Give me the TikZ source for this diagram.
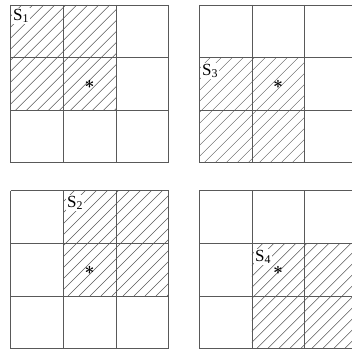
\documentclass[tikz,border=0pt]{standalone}
\usepackage{fontspec}
\setmainfont{Liberation Serif}
\newcommand\cellgrid[2]{%
  \foreach \i in {0,1,2,3}{%
    \draw[gridline] (#1+\i*52.6, #2) -- (#1+\i*52.6, #2+157.8);
    \draw[gridline] (#1, #2+\i*52.6) -- (#1+157.8, #2+\i*52.6);
  }}
\newcommand\hatchsq[2]{%
  \begin{scope}
    \clip (#1,#2) rectangle ++(105.2,105.2);
    \foreach \d in {0,11,...,231}
      \draw[hatchline] (#1+\d-105.2, #2+105.2) -- ++(105.2,-105.2);
  \end{scope}}
\begin{document}
\begin{tikzpicture}[x=1pt,y=-1pt,
  gridline/.style={draw=black!65, line width=0.8pt},
  hatchline/.style={draw=black!65, line width=0.45pt},
  lab/.style={fill=white, inner sep=1pt, font=\fontsize{17}{17}\selectfont},
  starmark/.style={inner sep=0pt, font=\fontsize{17}{17}\selectfont\boldmath}]
\useasboundingbox (0,0) rectangle (352,350);
% hatched regions
\hatchsq{10.7}{5}
\hatchsq{199.3}{57.6}
\hatchsq{63.3}{190.7}
\hatchsq{251.9}{243.3}
% labels
\node[lab] (s1) at (21,16) {S\textsubscript{1}};
\node[lab] (s3) at (210,71) {S\textsubscript{3}};
\node[lab] (s2) at (75,203) {S\textsubscript{2}};
\node[lab] (s4) at (263,257) {S\textsubscript{4}};
% grids
\cellgrid{10.7}{5}
\cellgrid{199.3}{5}
\cellgrid{10.7}{190.7}
\cellgrid{199.3}{190.7}
% centre marks
\node[starmark] (c1) at (89.6,84.6) {$\ast$};
\node[starmark] (c2) at (278.2,84.6) {$\ast$};
\node[starmark] (c3) at (89.6,270.3) {$\ast$};
\node[starmark] (c4) at (278.2,270.3) {$\ast$};
\end{tikzpicture}
\end{document}
